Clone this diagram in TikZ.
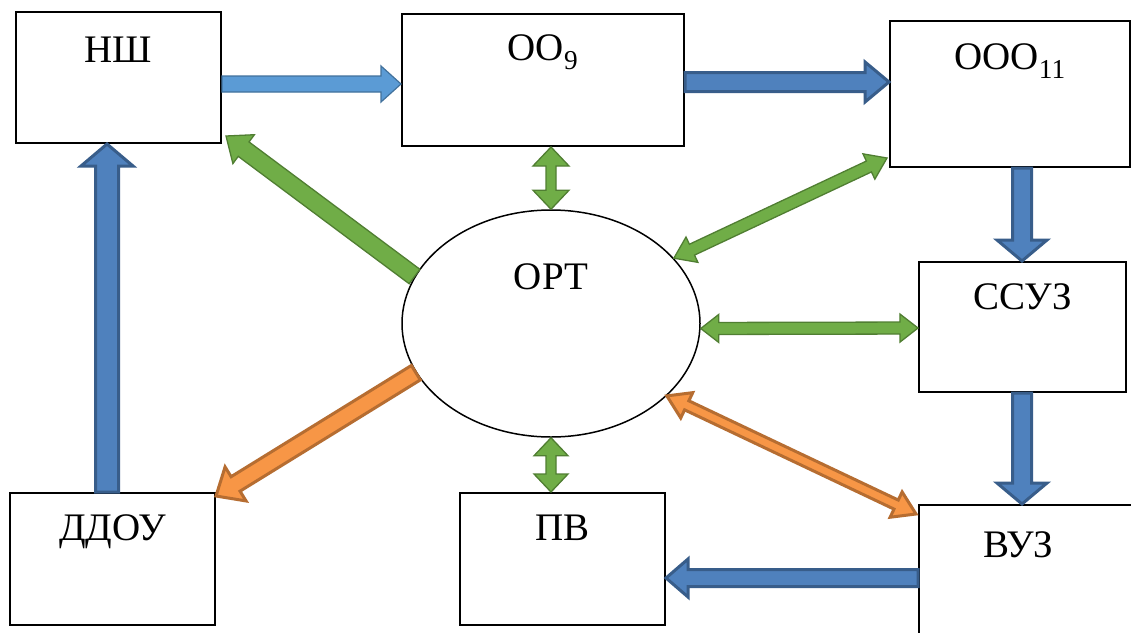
\documentclass[tikz,border=0pt]{standalone}
\usepackage{fontspec}
\setmainfont{Liberation Serif}
\usepackage{tikz}
\usetikzlibrary{calc,shapes.geometric}

\definecolor{lblue}{HTML}{5B9BD5}
\definecolor{lblueline}{HTML}{41719C}
\definecolor{dblue}{HTML}{4F81BD}
\definecolor{dblueline}{HTML}{385D8A}
\definecolor{grn}{HTML}{70AD47}
\definecolor{grnline}{HTML}{507E32}
\definecolor{orng}{HTML}{F79646}
\definecolor{orngline}{HTML}{B66D31}

\tikzset{
  sw/.store in=\shaftw, hw/.store in=\headw, hl/.store in=\headl,
  sw=8pt, hw=18pt, hl=20pt,
  % block arrow, one head
  onehead/.style={to path={
    let \p1=(\tikztostart), \p2=(\tikztotarget), \p3=($(\p2)!\headl!(\p1)$) in
    ($(\p1)!\shaftw!90:(\p2)$) -- ($(\p3)!\shaftw!90:(\p2)$) -- ($(\p3)!\headw!90:(\p2)$)
    -- (\p2) -- ($(\p3)!\headw!-90:(\p2)$) -- ($(\p3)!\shaftw!-90:(\p2)$)
    -- ($(\p1)!\shaftw!-90:(\p2)$) -- cycle}},
  % block arrow, two heads
  twohead/.style={to path={
    let \p1=(\tikztostart), \p2=(\tikztotarget), \p3=($(\p2)!\headl!(\p1)$), \p4=($(\p1)!\headl!(\p2)$) in
    (\p1) -- ($(\p4)!\headw!90:(\p2)$) -- ($(\p4)!\shaftw!90:(\p2)$) -- ($(\p3)!\shaftw!90:(\p2)$)
    -- ($(\p3)!\headw!90:(\p2)$) -- (\p2) -- ($(\p3)!\headw!-90:(\p2)$) -- ($(\p3)!\shaftw!-90:(\p2)$)
    -- ($(\p4)!\shaftw!-90:(\p2)$) -- ($(\p4)!\headw!-90:(\p2)$) -- cycle}},
  box/.style={draw, line width=2pt, fill=white, inner sep=0pt},
  txt/.style={anchor=base, inner sep=0pt, font=\fontsize{39}{44}\selectfont},
  lbluearr/.style={draw=lblueline, fill=lblue, line width=1.2pt},
  bluearr/.style={draw=dblueline, fill=dblue, line width=3pt},
  grnarr/.style={draw=grnline, fill=grn, line width=1.3pt},
  orngarr/.style={draw=orngline, fill=orng, line width=3pt}
}

\begin{document}
\begin{tikzpicture}[x=1pt, y=-1pt]
\clip (0,0) rectangle (1131,632);
\fill[white] (0,0) rectangle (1131,632);

% boxes
\node[box, minimum width=205pt, minimum height=131pt] (nsh) at (118.5,77.5) {};
\node[box, minimum width=282pt, minimum height=132pt] (oo) at (543,80) {};
\node[box, minimum width=240pt, minimum height=146pt] (ooo) at (1010,94) {};
\node[box, minimum width=207pt, minimum height=130pt] (ssuz) at (1022.5,327) {};
\node[box, minimum width=214pt, minimum height=140pt] (vuz) at (1026,575) {};
\node[box, minimum width=205pt, minimum height=132pt] (pv) at (562.5,559) {};
\node[box, minimum width=205pt, minimum height=132pt] (ddou) at (112.5,559) {};
\node[draw, ellipse, line width=1.5pt, fill=white, inner sep=0pt,
      minimum width=298pt, minimum height=227pt] (ort) at (551,323.5) {};

% texts
\node[txt] at ([yshift=-51pt]nsh.north) {НШ};
\node[txt] at ([yshift=-47pt]oo.north) {ОО\textsubscript{9}};
\node[txt] at ([yshift=-49pt]ooo.north) {ООО\textsubscript{11}};
\node[txt] at ([yshift=-80pt]ort.north) {ОРТ};
\node[txt] at ([yshift=-48pt]ssuz.north) {ССУЗ};
\node[txt] at ([xshift=-8pt,yshift=-53pt]vuz.north) {ВУЗ};
\node[txt] at ([yshift=-48pt]pv.north) {ПВ};
\node[txt] at ([yshift=-48pt]ddou.north) {ДДОУ};

% blue arrows
\draw[lbluearr] (nsh.east |- 0,84) to[onehead, sw=8pt, hw=18pt, hl=20pt] (oo.west |- 0,84);
\draw[bluearr] (oo.east |- 0,82) to[onehead, sw=9.5pt, hw=20pt, hl=24pt] (ooo.west |- 0,82);
\draw[bluearr] (ooo.south -| 1022,0) to[onehead, sw=9.5pt, hw=25pt, hl=21pt] (ssuz.north -| 1022,0);
\draw[bluearr] (ssuz.south -| 1022,0) to[onehead, sw=9.5pt, hw=25pt, hl=21pt] (vuz.north -| 1022,0);
\draw[bluearr] (vuz.west |- 0,578) to[onehead, sw=8.5pt, hw=19pt, hl=22pt] (pv.east |- 0,578);
\draw[bluearr] (ddou.north -| 107,0) to[onehead, sw=11.5pt, hw=26pt, hl=22pt] (nsh.south -| 107,0);

% green arrows
\draw[grnarr] (oo.south -| ort.north) to[twohead, sw=5pt, hw=18pt, hl=19pt] (ort.north);
\draw[grnarr] (ort.161) to[onehead, sw=9pt, hw=18pt, hl=22pt] ([xshift=4pt,yshift=8pt]nsh.south east);
\draw[grnarr] ([xshift=-2pt,yshift=10pt]ooo.south west) to[twohead, sw=6pt, hw=14pt, hl=20pt] (ort.28);
\draw[grnarr] ([yshift=-5pt]ort.east) to[twohead, sw=6pt, hw=14pt, hl=18pt] (ssuz.west |- 0,328);
\draw[grnarr] (ort.south) to[twohead, sw=5pt, hw=17pt, hl=18pt] (pv.north -| ort.south);

% orange arrows
\draw[orngarr] (ort.200.6) to[onehead, sw=8.5pt, hw=20pt, hl=23pt] ([yshift=-4pt]ddou.north east);
\draw[orngarr] (ort.328) to[twohead, sw=5pt, hw=14pt, hl=22pt] ([xshift=-2pt,yshift=-10pt]vuz.north west);

\end{tikzpicture}
\end{document}
